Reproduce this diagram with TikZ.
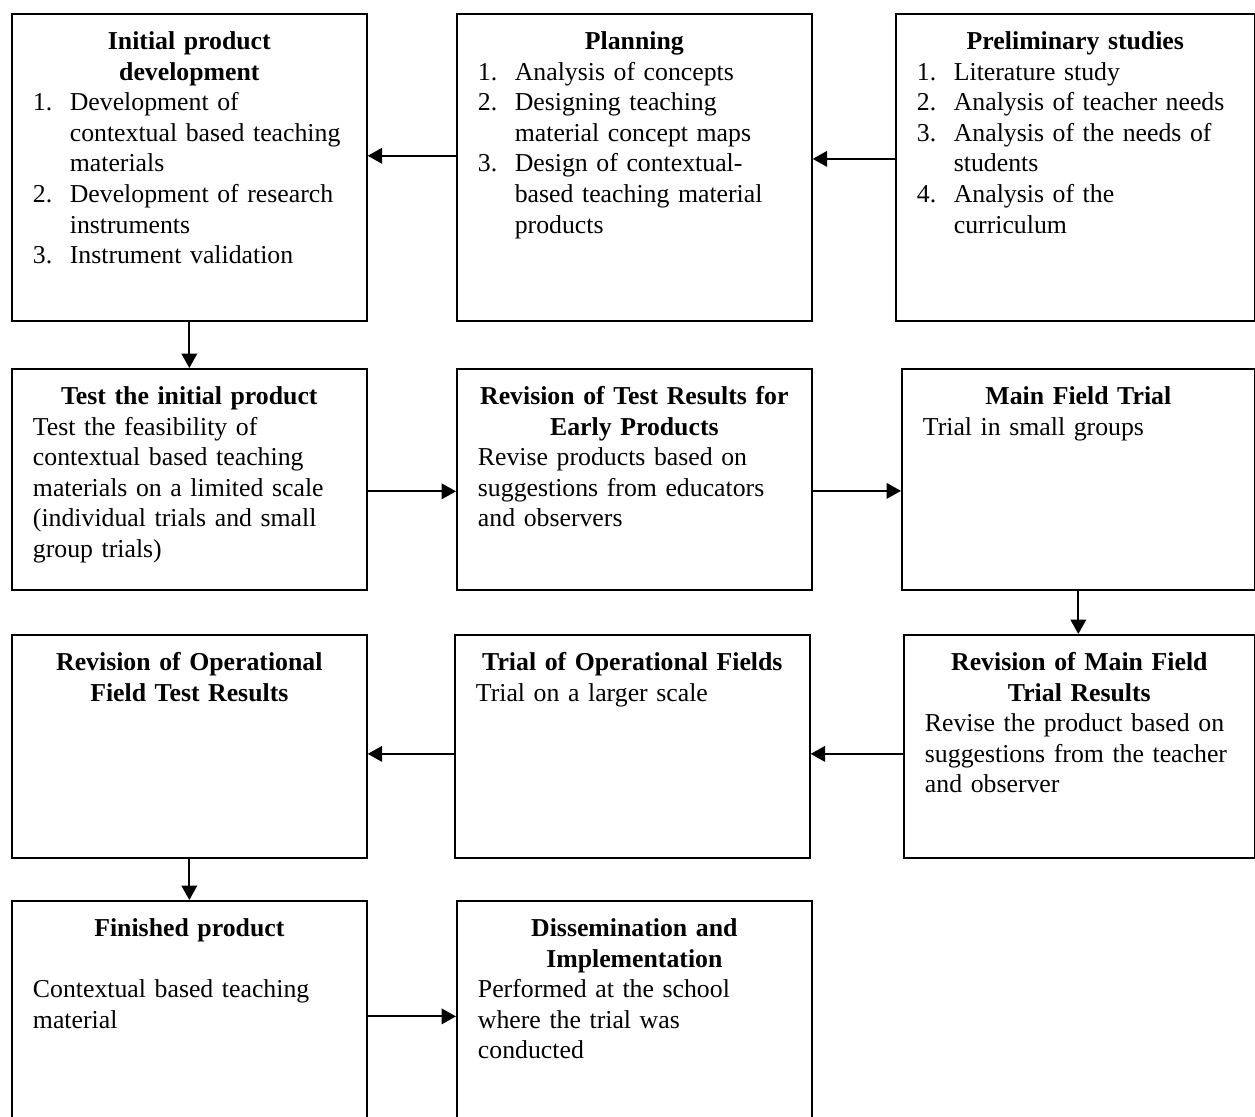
\documentclass[tikz,border=0pt]{standalone}
\usepackage{fontspec}
\setmainfont{Liberation Serif}
\usetikzlibrary{arrows.meta}
\newcommand{\stagetitle}[1]{{\centering\bfseries\mbox{#1}\par}}
\newcommand{\stepitem}[2]{\par\hangindent=16.6pt\hangafter=1\noindent\makebox[16.6pt][l]{#1}#2\par}
\tikzset{
	stage/.style={
		draw,
		line width=0.75pt,
		anchor=north west,
		inner xsep=9.5pt,
		inner ysep=6.75pt,
		text height=9.4pt,
		align=left,
		font=\fontsize{11.6pt}{13.75pt}\selectfont},
	every edge/.style={
		draw,
		-{Triangle[length=6.5pt,width=7pt]},
		line width=0.9pt}
}

\begin{document}
\begin{tikzpicture}[x=0.45pt, y=-0.45pt]
	\path[use as bounding box, clip] (0,0) rectangle (1255,1117);
	% first row
	\node[stage, text width=140.75pt, text depth=115.25pt] (dev) at (11,13) {\stagetitle{Initial product}\stagetitle{development}\stepitem{1.}{Development of\newline contextual based teaching\newline materials}\stepitem{2.}{Development of research\newline instruments}\stepitem{3.}{Instrument validation}};
	\node[stage, text width=140.75pt, text depth=115.25pt] (plan) at (456,13) {\stagetitle{Planning}\stepitem{1.}{Analysis of concepts}\stepitem{2.}{Designing teaching\newline material concept maps}\stepitem{3.}{Design of contextual-\newline based teaching material\newline products}};
	\node[stage, text width=142.55pt, text depth=115.25pt] (prelim) at (895,13) {\stagetitle{Preliminary studies}\stepitem{1.}{Literature study}\stepitem{2.}{Analysis of teacher needs}\stepitem{3.}{Analysis of the needs of\newline students}\stepitem{4.}{Analysis of the\newline curriculum}};
	% second row
	\node[stage, text width=140.75pt, text depth=76.55pt] (test) at (11,368) {\stagetitle{Test the initial product}Test the feasibility of\\contextual based teaching\\materials on a limited scale\\(individual trials and small\\group trials)};
	\node[stage, text width=140.75pt, text depth=76.55pt] (revtest) at (456,368) {\stagetitle{Revision of Test Results for}\stagetitle{Early Products}Revise products based on\\suggestions from educators\\and observers};
	\node[stage, text width=139.85pt, text depth=76.55pt] (mainf) at (901,368) {\stagetitle{Main Field Trial}Trial in small groups};
	% third row
	\node[stage, text width=140.75pt, text depth=77.45pt] (revop) at (11,634) {\stagetitle{Revision of Operational}\stagetitle{Field Test Results}};
	\node[stage, text width=140.75pt, text depth=77.45pt] (trialop) at (454,634) {\stagetitle{Trial of Operational Fields}Trial on a larger scale};
	\node[stage, text width=138.95pt, text depth=77.45pt] (revmain) at (903,634) {\stagetitle{Revision of Main Field}\stagetitle{Trial Results}Revise the product based on\\suggestions from the teacher\\and observer};
	% last row
	\node[stage, text width=140.75pt, text depth=85.1pt] (finish) at (11,900) {\stagetitle{Finished product}\vspace{13.75pt}Contextual based teaching\\material};
	\node[stage, text width=140.75pt, text depth=85.1pt] (dissem) at (456,900) {\stagetitle{Dissemination and}\stagetitle{Implementation}Performed at the school\\where the trial was\\conducted};
	\draw ([yshift=3.8pt]prelim.west) edge ([yshift=3.8pt]plan.east);
	\draw ([yshift=5.2pt]plan.west) edge ([yshift=5.2pt]dev.east);
	\draw (dev.south) edge (test.north);
	\draw ([yshift=-5.4pt]test.east) edge ([yshift=-5.4pt]revtest.west);
	\draw ([yshift=-5.2pt]revtest.east) edge ([yshift=-5.2pt]mainf.west);
	\draw (mainf.south) edge (mainf.south |- revmain.north);
	\draw ([yshift=-3.4pt]revmain.west) edge ([yshift=-3.4pt]trialop.east);
	\draw ([yshift=-3.4pt]trialop.west) edge ([yshift=-3.4pt]revop.east);
	\draw (revop.south) edge (finish.north);
	\draw ([yshift=2pt]finish.east) edge ([yshift=2pt]dissem.west);
\end{tikzpicture}
\end{document}
